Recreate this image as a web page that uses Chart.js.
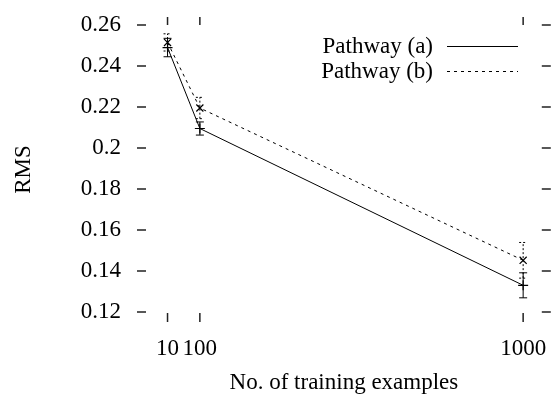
<!DOCTYPE html>
<html>
<head>
<meta charset="utf-8">
<script src="https://cdn.jsdelivr.net/npm/chart.js@4"></script>
<style>
html,body{margin:0;padding:0;background:#fff;}
#wrap{width:557px;height:396px;}
</style>
</head>
<body>
<div id="wrap"><canvas id="c" width="557" height="396"></canvas></div>
<script>
// ---- data ----
const examples = [10, 100, 1000];
const pathwayA = [0.2490, 0.2095, 0.1330];
const pathwayAErr = [0.0045, 0.0032, 0.0061];
const pathwayB = [0.2515, 0.2195, 0.1452];
const pathwayBErr = [0.0042, 0.0052, 0.0087];
const xTicks = [10, 100, 1000];
const yTicks = [0.12, 0.14, 0.16, 0.18, 0.2, 0.22, 0.24, 0.26];
const seriesLabels = ['Pathway (a)', 'Pathway (b)'];

const FONT = '"Liberation Serif", "Times New Roman", serif';
const FS = 23;

const toPts = (xs, ys) => xs.map((x, i) => ({x: x, y: ys[i]}));

const errorBars = {
  id: 'errorBars',
  afterDatasetsDraw(chart) {
    const ctx = chart.ctx, xs = chart.scales.x, ys = chart.scales.y;
    const errs = [pathwayAErr, pathwayBErr];
    chart.data.datasets.forEach((ds, di) => {
      ctx.save();
      ctx.strokeStyle = '#000';
      ctx.lineWidth = 1;
      ctx.setLineDash(di === 1 ? [2, 2] : []);
      ds.data.forEach((p, i) => {
        const px = xs.getPixelForValue(p.x);
        const y1 = ys.getPixelForValue(p.y - errs[di][i]);
        const y2 = ys.getPixelForValue(p.y + errs[di][i]);
        ctx.beginPath();
        ctx.moveTo(px, y1); ctx.lineTo(px, y2);
        ctx.moveTo(px - 4, y1); ctx.lineTo(px + 4, y1);
        ctx.moveTo(px - 4, y2); ctx.lineTo(px + 4, y2);
        ctx.stroke();
      });
      ctx.restore();
    });
  }
};

const borderTicks = {
  id: 'borderTicks',
  afterDraw(chart) {
    const ctx = chart.ctx, a = chart.chartArea, xs = chart.scales.x, ys = chart.scales.y;
    ctx.save();
    ctx.strokeStyle = '#222';
    ctx.lineWidth = 1.5;
    ctx.beginPath();
    xs.ticks.forEach(t => {
      const px = xs.getPixelForValue(t.value);
      ctx.moveTo(px, a.bottom); ctx.lineTo(px, a.bottom - 9);
      ctx.moveTo(px, a.top); ctx.lineTo(px, a.top + 8);
    });
    ys.ticks.forEach(t => {
      const py = ys.getPixelForValue(t.value);
      ctx.moveTo(a.left, py); ctx.lineTo(a.left + 9, py);
      ctx.moveTo(a.right, py); ctx.lineTo(a.right - 9, py);
    });
    ctx.stroke();
    ctx.restore();
  }
};

const keyLegend = {
  id: 'keyLegend',
  afterDraw(chart) {
    const ctx = chart.ctx;
    ctx.save();
    ctx.font = FS + 'px ' + FONT;
    ctx.fillStyle = '#000';
    ctx.textAlign = 'right';
    ctx.textBaseline = 'alphabetic';
    chart.data.datasets.forEach((ds, i) => {
      const ly = 46 + i * 25;
      ctx.fillText(ds.label, 433, ly + 7);
      ctx.strokeStyle = '#000';
      ctx.lineWidth = 1;
      ctx.setLineDash(ds.borderDash || []);
      ctx.beginPath();
      ctx.moveTo(447, ly + 0.5); ctx.lineTo(518, ly + 0.5);
      ctx.stroke();
    });
    ctx.restore();
  }
};

new Chart(document.getElementById('c'), {
  type: 'line',
  data: {
    datasets: [
      {
        label: seriesLabels[0],
        data: toPts(examples, pathwayA),
        borderColor: '#000', borderWidth: 1,
        pointStyle: 'cross', pointRadius: 5, pointBorderWidth: 1.2,
        pointBorderColor: '#000', backgroundColor: '#000', fill: false, tension: 0
      },
      {
        label: seriesLabels[1],
        data: toPts(examples, pathwayB),
        borderColor: '#000', borderWidth: 1, borderDash: [3, 4],
        pointStyle: 'crossRot', pointRadius: 5, pointBorderWidth: 1.2,
        pointBorderColor: '#000', backgroundColor: '#000', fill: false, tension: 0
      }
    ]
  },
  options: {
    responsive: false,
    animation: false,
    layout: {padding: {top: 17, right: 1, left: 0, bottom: 0}},
    plugins: {legend: {display: false}, tooltip: {enabled: false}},
    scales: {
      x: {
        type: 'linear', min: -75, max: 1077,
        afterBuildTicks: s => { s.ticks = xTicks.map(v => ({value: v})); },
        afterFit: s => { s.height = 74; s.paddingLeft = 0; s.paddingRight = 0; },
        grid: {display: false, drawTicks: false},
        border: {display: false},
        ticks: {
          color: '#000', font: {family: FONT, size: FS}, padding: 13,
          maxRotation: 0, autoSkip: false,
          callback: v => String(v)
        },
        title: {
          display: true, text: 'No. of training examples', color: '#000',
          font: {family: FONT, size: FS}, padding: {top: 0, bottom: -1}
        }
      },
      y: {
        type: 'linear', min: 0.1151, max: 0.2639,
        afterBuildTicks: s => { s.ticks = yTicks.map(v => ({value: v})); },
        afterFit: s => { s.width = 137; s.paddingTop = 0; s.paddingBottom = 0; },
        grid: {display: false, drawTicks: false},
        border: {display: false},
        ticks: {
          color: '#000', font: {family: FONT, size: FS}, padding: 16,
          autoSkip: false,
          callback: v => String(Math.round(v * 100) / 100)
        },
        title: {
          display: true, text: 'RMS', color: '#000',
          font: {family: FONT, size: FS}, padding: {top: 10, bottom: 0}
        }
      }
    }
  },
  plugins: [errorBars, borderTicks, keyLegend]
});
</script>
</body>
</html>
